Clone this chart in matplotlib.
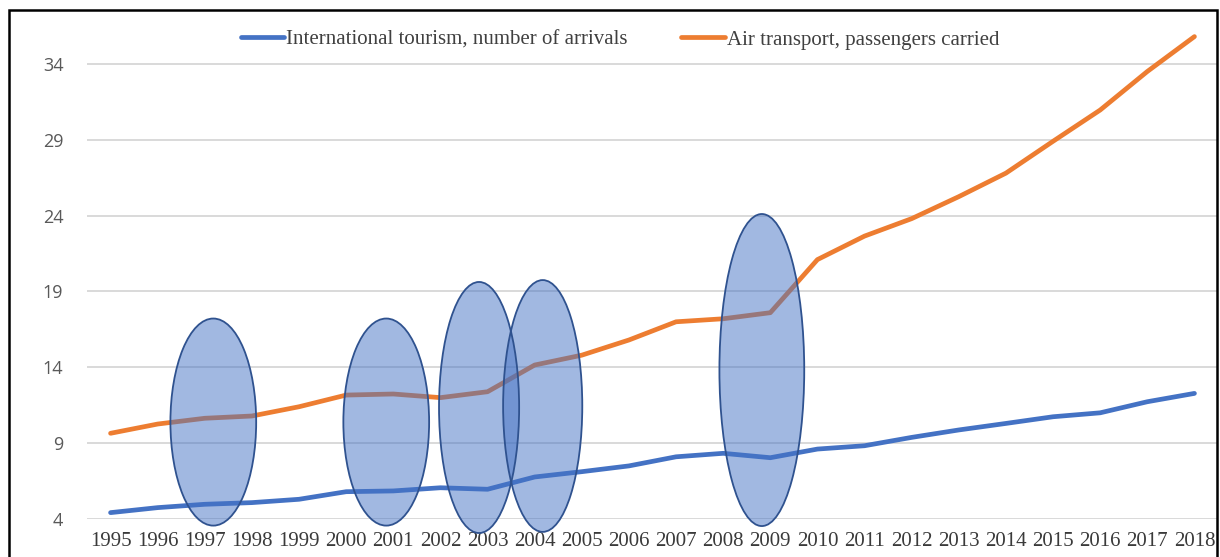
import matplotlib
matplotlib.use("Agg")
import matplotlib.pyplot as plt
from matplotlib.patches import Ellipse, Rectangle

# yearly series (category axis, 1995-2018)
years = [str(y) for y in range(1995, 2019)]
tourism = [4.42, 4.75, 4.97, 5.08, 5.30, 5.80, 5.85, 6.06, 5.96, 6.77, 7.12, 7.50,
           8.10, 8.33, 8.04, 8.61, 8.83, 9.38, 9.87, 10.30, 10.74, 11.00, 11.73, 12.28]
air = [9.65, 10.26, 10.64, 10.79, 11.40, 12.17, 12.24, 12.00, 12.39, 14.15, 14.80, 15.80,
       17.00, 17.20, 17.60, 21.10, 22.65, 23.80, 25.25, 26.80, 28.90, 30.96, 33.50, 35.80]
yticks = [4, 9, 14, 19, 24, 29, 34]

# highlighted periods: (centre index, centre value, width, height)
highlights = [(2.18, 10.39, 1.82, 13.65),
              (5.85, 10.39, 1.82, 13.65),
              (7.82, 11.35, 1.70, 16.55),
              (9.17, 11.45, 1.68, 16.60),
              (13.82, 13.82, 1.80, 20.57)]

BLUE, ORANGE = "#4472C4", "#ED7D31"

fig = plt.figure(figsize=(12.2, 5.57), dpi=100)
ax = fig.add_axes([87 / 1220, 38 / 557, 1131 / 1220, 509 / 557])

x = list(range(len(years)))
ax.plot(x, tourism, color=BLUE, lw=3.4, solid_capstyle="round",
        label="International tourism, number of arrivals")
ax.plot(x, air, color=ORANGE, lw=3.4, solid_capstyle="round",
        label="Air transport, passengers carried")

for cx, cy, w, h in highlights:
    ax.add_patch(Ellipse((cx, cy), w, h, fc=BLUE, alpha=0.5, ec="none",
                         zorder=3, clip_on=False))
    ax.add_patch(Ellipse((cx, cy), w, h, fc="none", ec="#2F528F", lw=1.3,
                         zorder=4, clip_on=False))

ax.set_xlim(-0.5, len(years) - 0.5)
ax.set_ylim(4, 4 + 509 / 15.17)
ax.set_yticks(yticks)
ax.set_xticks(x)
ax.set_xticklabels(years, fontfamily="Liberation Serif", fontsize=15, color="#3a3a3a")
for lab in ax.get_yticklabels():
    lab.set_fontfamily("Open Sans")
    lab.set_fontsize(13)
    lab.set_color("#595959")
ax.tick_params(axis="both", length=0)
ax.tick_params(axis="y", pad=17)
ax.tick_params(axis="x", pad=9)
ax.grid(axis="y", color="#D9D9D9", lw=1.4)
ax.set_axisbelow(True)
for s in ax.spines.values():
    s.set_visible(False)

leg = fig.legend(loc="center", bbox_to_anchor=(620 / 1220, 1 - 40 / 557), ncol=2,
                 frameon=False, prop={"family": "Liberation Serif", "size": 15},
                 handlelength=2.1, handletextpad=0.1, columnspacing=2.55)
for t in leg.get_texts():
    t.set_color("#404040")

fig.patches.append(Rectangle((9 / 1220, -0.02), 1208 / 1220, 1 - 10 / 557 + 0.02,
                             transform=fig.transFigure, fill=False, ec="black", lw=1.8))

fig.savefig("out.png", dpi=100, facecolor="white")
